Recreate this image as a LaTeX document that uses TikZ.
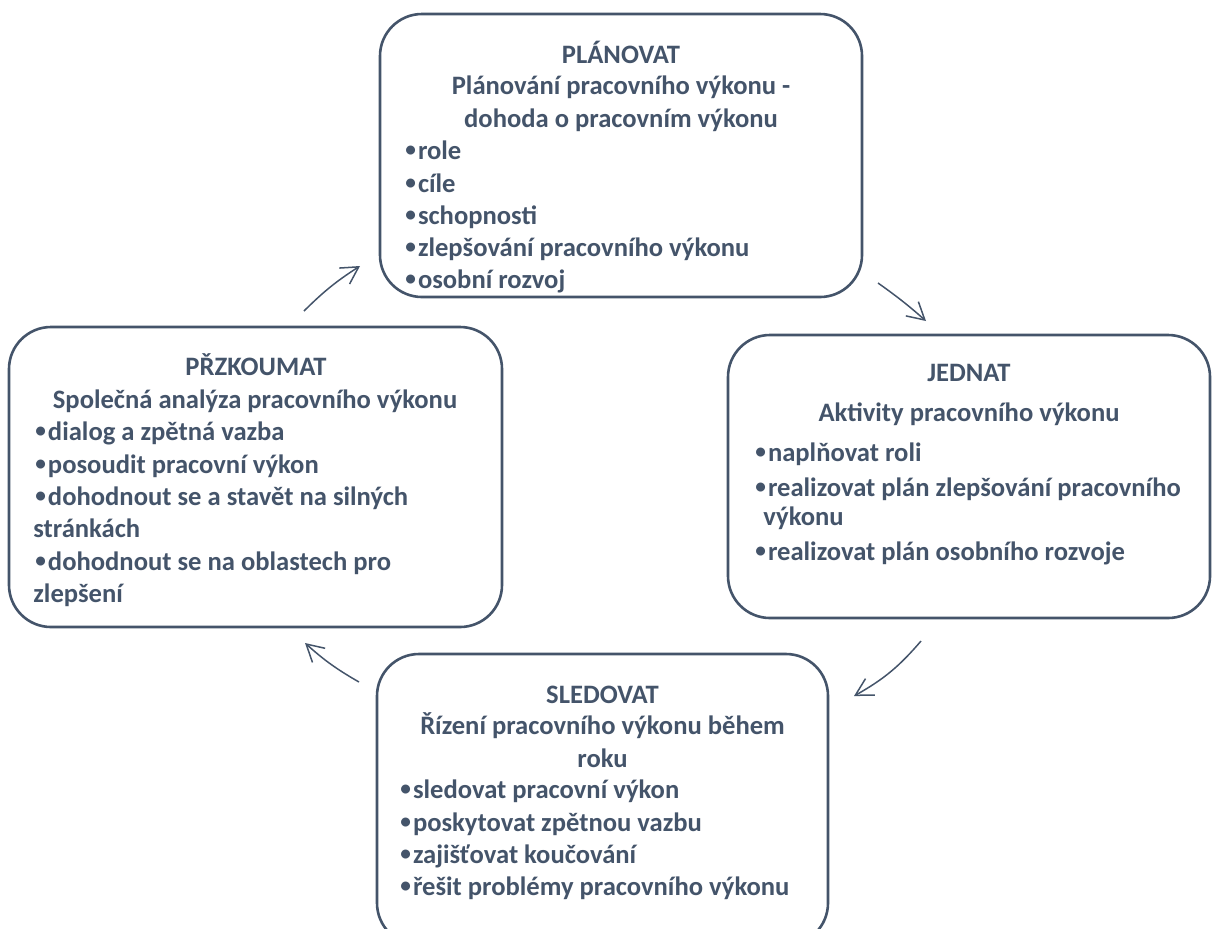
\documentclass[tikz,border=0pt]{standalone}
\usepackage{fontspec}
\setmainfont{Carlito}
\usetikzlibrary{arrows.meta}
\definecolor{slate}{HTML}{44546A}
\newcommand{\bul}{\raisebox{0.09em}{\scalebox{0.8}{•}}\kern1pt}
\begin{document}
\begin{tikzpicture}[x=0.5pt,y=-0.5pt,
  box/.style={draw=slate, line width=1.3pt, rounded corners=21pt, inner sep=0pt},
  txt/.style={text=slate, font=\fontsize{13.3}{16}\selectfont\bfseries, inner sep=0pt},
  ttl/.style={txt, anchor=base},
  itm/.style={txt, anchor=base west},
  cyc/.style={draw=slate, line width=0.75pt, -{Straight Barb[length=8.5pt,width=9.5pt]}}]
\useasboundingbox (0,0) rectangle (1213,928);
\clip (0,0) rectangle (1213,928);
% boxes
\node[box, minimum width=241pt, minimum height=141.5pt] (plan) at (621,155.5) {};
\node[box, minimum width=246.5pt, minimum height=150pt] (review) at (255.5,477) {};
\node[box, minimum width=241pt, minimum height=141.5pt] (act) at (969,476.5) {};
\node[box, minimum width=225.5pt, minimum height=145.5pt] (monitor) at (602.5,799.5) {};
% top box text
\node[ttl] (p0) at (621,63) {PLÁNOVAT};
\node[ttl] (p1) at (621,94) {Plánování pracovního výkonu -};
\node[ttl] (p2) at (621,127) {dohoda o pracovním výkonu};
\node[itm] (p3) at (405,159) {\bul role};
\node[itm] (p4) at (405,192) {\bul cíle};
\node[itm] (p5) at (405,224) {\bul schopnosti};
\node[itm] (p6) at (405,256) {\bul zlepšování pracovního výkonu};
\node[itm] (p7) at (405,288) {\bul osobní rozvoj};
% left box text
\node[ttl] (r0) at (256,375) {PŘZKOUMAT};
\node[ttl] (r1) at (255,408) {Společná analýza pracovního výkonu};
\node[itm] (r2) at (35,440) {\bul dialog a zpětná vazba};
\node[itm] (r3) at (35,473) {\bul posoudit pracovní výkon};
\node[itm] (r4) at (35,505) {\bul dohodnout se a stavět na silných};
\node[itm] (r5) at (33,537) {stránkách};
\node[itm] (r6) at (35,570) {\bul dohodnout se na oblastech pro};
\node[itm] (r7) at (33,602) {zlepšení};
% right box text
\node[ttl] (a0) at (969,381) {JEDNAT};
\node[ttl] (a1) at (969,421) {Aktivity pracovního výkonu};
\node[itm] (a2) at (755,461) {\bul naplňovat roli};
\node[itm] (a3) at (755,496) {\bul realizovat plán zlepšování pracovního};
\node[itm] (a4) at (763,525) {výkonu};
\node[itm] (a5) at (755,560) {\bul realizovat plán osobního rozvoje};
% bottom box text
\node[ttl] (m0) at (602.5,703) {SLEDOVAT};
\node[ttl] (m1) at (602.5,734) {Řízení pracovního výkonu během};
\node[ttl] (m2) at (602.5,767) {roku};
\node[itm] (m3) at (400,798) {\bul sledovat pracovní výkon};
\node[itm] (m4) at (400,831) {\bul poskytovat zpětnou vazbu};
\node[itm] (m5) at (400,863) {\bul zajišťovat koučování};
\node[itm] (m6) at (400,895) {\bul řešit problémy pracovního výkonu};
% cycle arrows
\coordinate (c1s) at (304,311); \coordinate (c1e) at (360,266);
\coordinate (c2s) at (878,283); \coordinate (c2e) at (926,321);
\coordinate (c3s) at (921,641); \coordinate (c3e) at (854,696);
\coordinate (c4s) at (359,682); \coordinate (c4e) at (305,643);
\draw[cyc] (c1s) to[bend left=6] (c1e);
\draw[cyc] (c2s) to[bend left=3] (c2e);
\draw[cyc] (c3s) to[bend left=10] (c3e);
\draw[cyc] (c4s) to[bend left=6] (c4e);
\end{tikzpicture}
\end{document}
